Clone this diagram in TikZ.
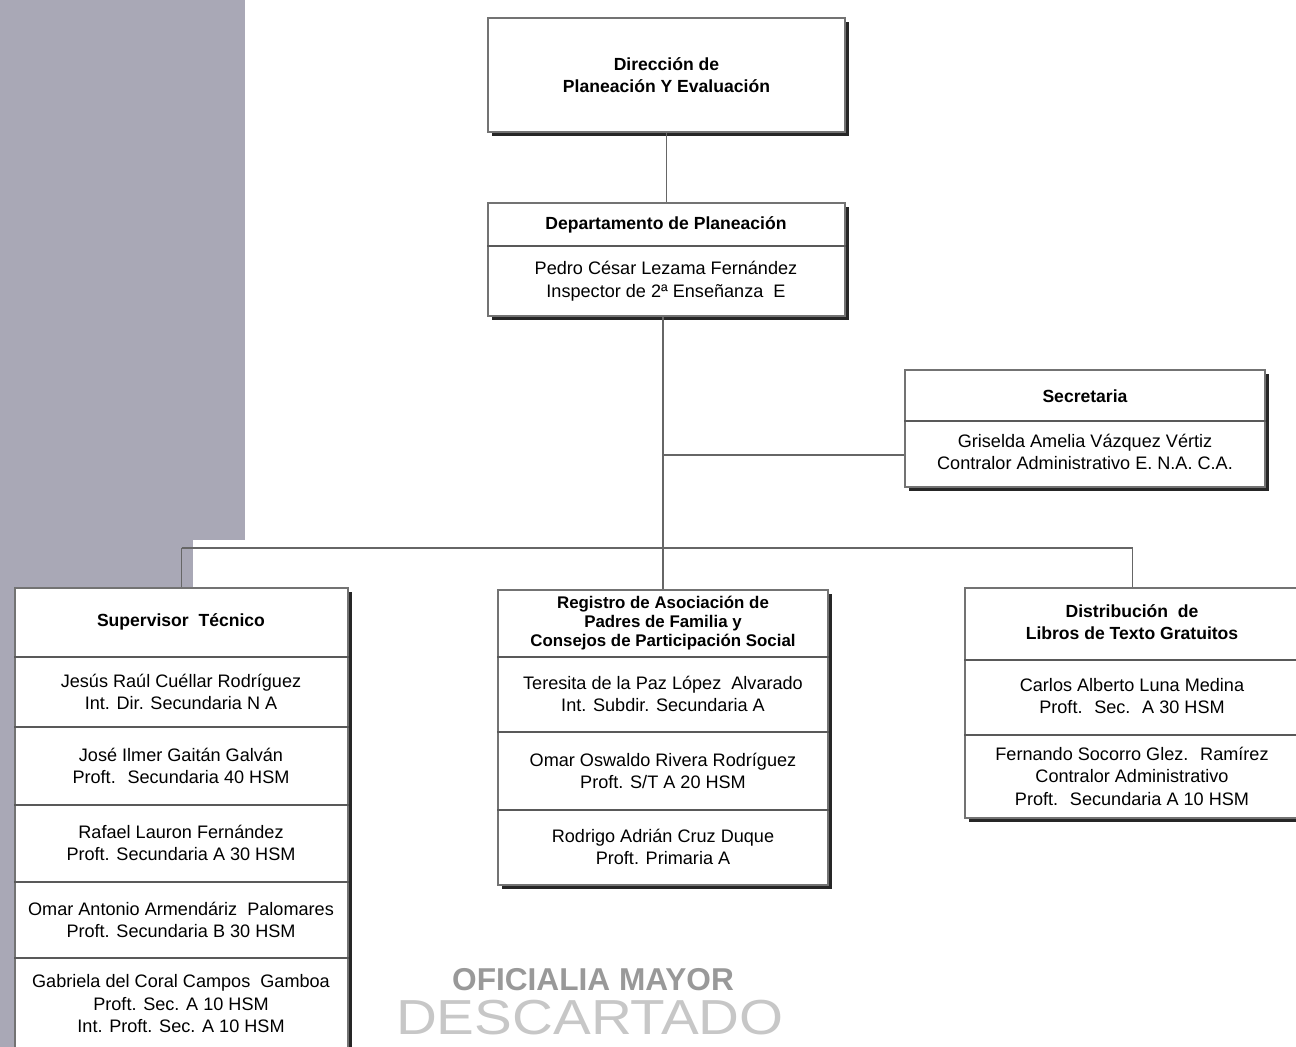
\documentclass[tikz,border=0pt]{standalone}
\usepackage{fontspec}
\setmainfont{Liberation Sans}
\usetikzlibrary{fit, shadows, positioning}
\definecolor{bandgray}{RGB}{169,168,182}

\begin{document}
\begin{tikzpicture}[
    x=0.02cm, y=-0.02cm,
    box/.style={draw=black!55, line width=0.6pt, fill=white, inner sep=0pt, general shadow={fill=black!85, shadow xshift=2.4pt, shadow yshift=-2.4pt}},
    head/.style={align=center, inner sep=0pt, font=\fontsize{10}{12.5}\selectfont\bfseries},
    tight head/.style={head, font=\fontsize{9.6}{10.6}\selectfont\bfseries},
    person/.style={align=center, inner sep=0pt, font=\fontsize{10.3}{12.8}\selectfont},
    rowline/.style={draw=black!65, line width=0.8pt},
    link/.style={draw=black!60, line width=0.8pt}
]
    \useasboundingbox (0,0) rectangle (1296,1047);

    % ================= BACKGROUND =================
    \fill[bandgray] (0,0) rectangle (245,540);
    \fill[bandgray] (0,540) rectangle (193,590);
    \fill[bandgray] (0,590) rectangle (15,1047);

    % ================= STAMP =================
    \node[inner sep=0pt, font=\fontsize{18}{18}\selectfont\bfseries, text=black!40] (STAMP) at (593,980) {OFICIALIA MAYOR};
    \node[anchor=base, inner sep=0pt, xscale=1.15, font=\fontsize{28}{28}\selectfont, text=black!22] (STAMP2) at (590,1034) {DESCARTADO};

    % ================= TOP =================
    \node[box, fit={(488,18) (845,132)}] (DIR) {};
    \node[head] (DIRt) at (DIR.center) {Dirección de\\Planeación Y Evaluación};

    \node[box, fit={(488,203) (845,316)}] (DEP) {};
    \draw[rowline] (DEP.west |- 0,246) -- (DEP.east |- 0,246);
    \node[head] (DEPt) at (666,225) {Departamento de Planeación};
    \node[person] (DEPp) at (666,281) {Pedro César Lezama Fernández\\Inspector de 2ª Enseñanza \ E};

    \node[box, fit={(905,370) (1265,487)}] (SEC) {};
    \draw[rowline] (SEC.west |- 0,421) -- (SEC.east |- 0,421);
    \node[head] (SECt) at (1085,396) {Secretaria};
    \node[person] (SECp) at (1085,452) {Griselda Amelia Vázquez Vértiz\\Contralor Administrativo E. N.A. C.A.};

    % ================= SUPERVISOR TECNICO =================
    \node[box, fit={(15,588) (348,1080)}] (SUP) {};
    \foreach \y in {657,727,805,882,958}
        \draw[rowline] (SUP.west |- 0,\y) -- (SUP.east |- 0,\y);
    \node[head] (SUPt) at (181,622) {Supervisor \ Técnico};
    \node[person] (SUP1) at (181,692) {Jesús Raúl Cuéllar Rodríguez\\Int. Dir. Secundaria N A};
    \node[person] (SUP2) at (181,766) {José Ilmer Gaitán Galván\\Proft. \ Secundaria 40 HSM};
    \node[person] (SUP3) at (181,843) {Rafael Lauron Fernández\\Proft. Secundaria A 30 HSM};
    \node[person] (SUP4) at (181,920) {Omar Antonio Armendáriz \ Palomares\\Proft. Secundaria B 30 HSM};
    \node[person] (SUP5) at (181,1004) {Gabriela del Coral Campos \ Gamboa\\Proft. Sec. A 10 HSM\\Int. Proft. Sec. A 10 HSM};

    % ================= REGISTRO =================
    \node[box, fit={(498,590) (828,885)}] (REG) {};
    \foreach \y in {657,732,810}
        \draw[rowline] (REG.west |- 0,\y) -- (REG.east |- 0,\y);
    \node[tight head] (REGt) at (663,623) {Registro de Asociación de\\Padres de Familia y\\Consejos de Participación Social};
    \node[person] (REG1) at (663,694) {Teresita de la Paz López \ Alvarado\\Int. Subdir. Secundaria A};
    \node[person] (REG2) at (663,771) {Omar Oswaldo Rivera Rodríguez\\Proft. S/T A 20 HSM};
    \node[person] (REG3) at (663,847) {Rodrigo Adrián Cruz Duque\\Proft. Primaria A};

    % ================= DISTRIBUCION =================
    \node[box, fit={(965,588) (1300,818)}] (DIS) {};
    \foreach \y in {660,735}
        \draw[rowline] (DIS.west |- 0,\y) -- (DIS.east |- 0,\y);
    \node[head] (DISt) at (1132,622) {Distribución \ de\\Libros de Texto Gratuitos};
    \node[person] (DIS1) at (1132,696) {Carlos Alberto Luna Medina\\Proft. \ Sec. \ A 30 HSM};
    \node[person] (DIS2) at (1132,776) {Fernando Socorro Glez. \ Ramírez\\Contralor Administrativo\\Proft. \ Secundaria A 10 HSM};

    % ================= CONNECTIONS =================
    \coordinate (hub) at (663,548);
    \coordinate (secJ) at (663,455);
    \draw[link] (DIR) -- (DEP);
    \draw[link] (DEP.south -| hub) -- (hub);
    \draw[link] (secJ) -- (secJ -| SEC.west);
    \draw[link] (SUP.north |- hub) -- (DIS.north |- hub);
    \draw[link] (SUP.north |- hub) -- (SUP.north);
    \draw[link] (hub) -- (REG.north);
    \draw[link] (DIS.north |- hub) -- (DIS.north);

\end{tikzpicture}
\end{document}
